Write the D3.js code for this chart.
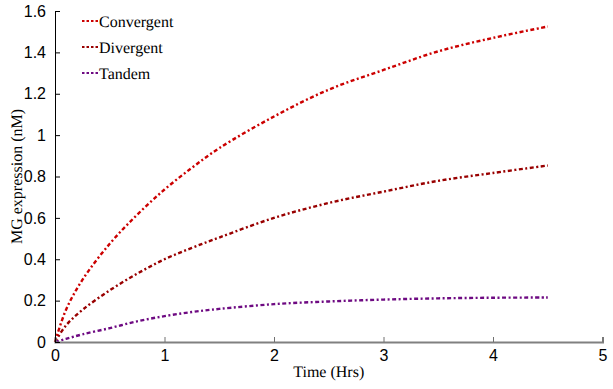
<!DOCTYPE html>
<html>
<head>
<meta charset="utf-8">
<script src="https://cdn.jsdelivr.net/npm/d3@7"></script>
<style>
  body { margin: 0; background: #fff; }
  svg { display: block; }
  .serif { font-family: "Liberation Serif", "Times New Roman", serif; font-size: 16px; text-rendering: geometricPrecision; }
</style>
</head>
<body>
<svg id="chart"></svg>
<script>
// data
const times = [0, 0.1, 0.25, 0.5, 0.75, 1, 1.25, 1.5, 2, 2.5, 3, 3.5, 4, 4.5];
const convergent = [0, 0.155, 0.30, 0.475, 0.615, 0.737, 0.842, 0.937, 1.09, 1.22, 1.315, 1.405, 1.47, 1.525];
const divergent = [0, 0.08, 0.155, 0.25, 0.33, 0.40, 0.455, 0.505, 0.60, 0.672, 0.727, 0.779, 0.817, 0.853];
const tandem = [0, 0.015, 0.037, 0.067, 0.10, 0.125, 0.145, 0.16, 0.183, 0.196, 0.205, 0.211, 0.214, 0.215];
const seriesNames = ["Convergent", "Divergent", "Tandem"];
const xTicks = [0, 1, 2, 3, 4, 5];
const yTicks = [0, 0.2, 0.4, 0.6, 0.8, 1, 1.2, 1.4, 1.6];

const width = 613, height = 389;
const marginLeft = 55, marginRight = 10, marginTop = 11, marginBottom = 47;

const svg = d3.select("#chart")
    .attr("width", width)
    .attr("height", height);

const x = d3.scaleLinear()
    .domain([0, 5])
    .range([marginLeft, width - marginRight - 0.5]);

const y = d3.scaleLinear()
    .domain([0, 1.6])
    .range([height - marginBottom, marginTop]);

const colors = ["#cc0000", "#990000", "#6e0a82"];
const allSeries = [convergent, divergent, tandem];

// lines
const line = d3.line()
    .x((d, i) => x(times[i]))
    .y(d => y(d))
    .curve(d3.curveCatmullRom.alpha(0.5));

allSeries.forEach((s, k) => {
    svg.append("path")
        .datum(s)
        .attr("fill", "none")
        .attr("stroke", colors[k])
        .attr("stroke-width", 2.4)
        .attr("stroke-dasharray", "4,2.5,2,2.5")
        .attr("d", line);
});

// x axis (ticks inside)
const xAxis = svg.append("g")
    .attr("transform", `translate(0,${y(0)})`)
    .call(d3.axisBottom(x).tickValues(xTicks).tickSize(-5).tickPadding(8).tickFormat(d3.format("d")));
xAxis.select(".domain").attr("stroke", "#808080").attr("stroke-width", 2);
xAxis.selectAll(".tick line").attr("stroke", "#707070").attr("stroke-width", 1);
xAxis.selectAll("text")
    .attr("font-family", "Liberation Sans, Arial, sans-serif")
    .attr("font-size", 16)
    .attr("fill", "#000");

// y axis (ticks inside)
const yAxis = svg.append("g")
    .attr("transform", `translate(${x(0)},0)`)
    .call(d3.axisLeft(y).tickValues(yTicks).tickSize(-5).tickPadding(9).tickFormat(d => d3.format("")(d)));
yAxis.select(".domain").attr("stroke", "#000").attr("stroke-width", 1);
yAxis.selectAll(".tick line").attr("stroke", "#000");
yAxis.selectAll("text")
    .attr("font-family", "Liberation Sans, Arial, sans-serif")
    .attr("font-size", 16)
    .attr("fill", "#000");

// axis labels
svg.append("text")
    .attr("class", "serif")
    .attr("x", (x(0) + x(5)) / 2)
    .attr("y", 377)
    .attr("text-anchor", "middle")
    .text("Time (Hrs)");

svg.append("text")
    .attr("class", "serif")
    .attr("transform", `translate(22,${(y(0) + y(1.6)) / 2}) rotate(-90)`)
    .attr("text-anchor", "middle")
    .text("MG expression (nM)");

// legend
const legend = svg.append("g");
seriesNames.forEach((name, k) => {
    const ly = 21 + k * 26;
    legend.append("line")
        .attr("x1", 82).attr("x2", 98)
        .attr("y1", ly).attr("y2", ly)
        .attr("stroke", colors[k])
        .attr("stroke-width", 2)
        .attr("stroke-dasharray", "2.5,2");
    legend.append("text")
        .attr("class", "serif")
        .attr("x", 99)
        .attr("y", ly + 5.5)
        .text(name);
});
</script>
</body>
</html>
